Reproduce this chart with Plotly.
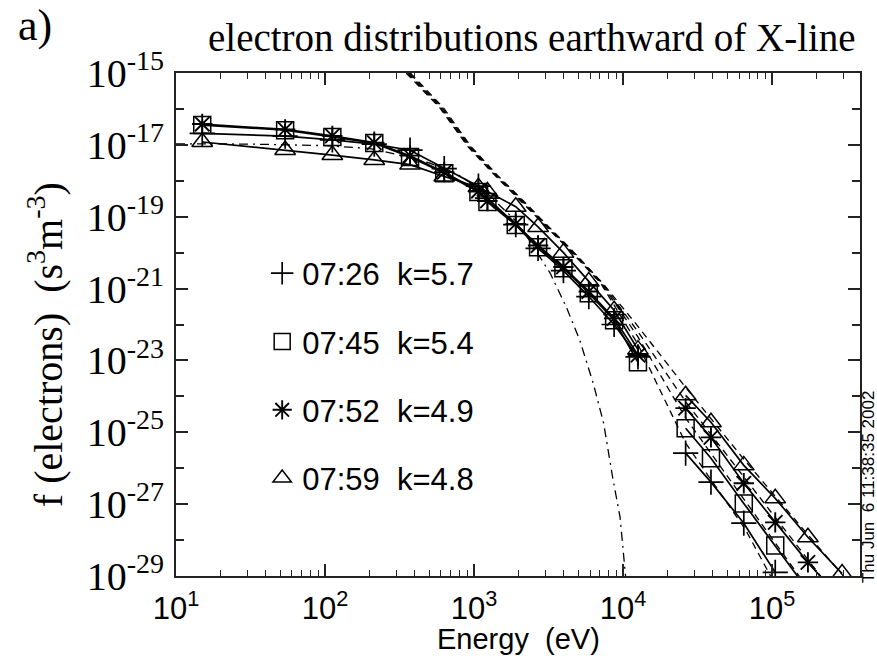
import plotly.graph_objects as go

# ---------------- data ----------------
# energies of the low-energy instrument channels (eV)
E_low = [15, 54, 112, 214, 372, 631, 1070, 1230, 1905, 2690, 3980, 5890, 8710, 12590]
# energies of the high-energy instrument channels (eV)
E_high = [26300, 38900, 64600, 105000, 174000, 295000]

times = ["07:26", "07:45", "07:52", "07:59"]
kappas = ["5.7", "5.4", "4.9", "4.8"]

f_0726_low = [2.09e-17, 1.74e-17, 1.38e-17, 1.05e-17, 7.1e-18, 2.19e-18, 7.1e-19, 3.3e-19,
              6.0e-20, 1.32e-20, 3.16e-21, 6.0e-22, 1.0e-22, 1.26e-23]
f_0745_low = [3.55e-17, 2.57e-17, 1.66e-17, 1.12e-17, 4.57e-18, 1.62e-18, 4.9e-19, 2.57e-19,
              5.9e-20, 1.41e-20, 3.7e-21, 7.4e-22, 1.32e-22, 8.9e-24]
f_0752_low = [3.8e-17, 2.69e-17, 1.78e-17, 1.15e-17, 5.0e-18, 1.74e-18, 5.2e-19, 2.75e-19,
              6.3e-20, 1.58e-20, 4.0e-21, 8.3e-22, 1.48e-22, 1.41e-23]
f_0759_low = [1.2e-17, 7.2e-18, 5.2e-18, 3.8e-18, 2.82e-18, 1.32e-18, 6.6e-19, 5.0e-19,
              1.9e-19, 5.2e-20, 1.0e-20, 1.58e-21, 2.5e-22, 2.0e-23]

f_0726_high = [2.63e-26, 4.1e-27, 2.95e-28, 1.26e-29, None, None]
f_0745_high = [1.29e-25, 1.9e-26, 1.05e-27, 7.1e-29, 4.0e-30, None]
f_0752_high = [4.7e-25, 7.2e-26, 3.8e-27, 3.1e-28, 2.4e-29, 2.0e-30]
f_0759_high = [1.07e-24, 1.9e-25, 1.2e-26, 1.45e-27, 1.2e-28, 1.17e-29]

# kappa fits (dashed), read as points along each curve
fitE_0726 = [350, 590, 910, 1380, 2040, 3020, 4470, 7080, 12590, 26300, 66100, 97700]
fitF_0726 = [1.0e-15, 1.07e-16, 8.9e-18, 1.41e-18, 2.82e-19, 5.6e-20, 1.07e-20, 1.41e-21,
             2.8e-23, 5.0e-26, 2.0e-28, 1.0e-29]
fitE_0745 = [358, 600, 925, 1400, 2070, 3060, 4520, 7150, 12590, 26300, 64600, 105000, 158000]
fitF_0745 = [1.0e-15, 1.07e-16, 8.9e-18, 1.41e-18, 2.82e-19, 5.6e-20, 1.07e-20, 1.41e-21,
             4.5e-23, 2.5e-25, 1.41e-27, 8.9e-29, 7.9e-30]
fitE_0752 = [366, 612, 940, 1420, 2100, 3100, 4570, 7230, 12590, 26300, 64600, 174000, 251000]
fitF_0752 = [1.0e-15, 1.07e-16, 8.9e-18, 1.41e-18, 2.82e-19, 5.6e-20, 1.07e-20, 1.41e-21,
             6.3e-23, 7.1e-25, 5.6e-27, 2.8e-29, 4.0e-30]
fitE_0759 = [374, 624, 955, 1440, 2130, 3140, 4630, 7300, 12590, 26300, 64600, 174000, 316000]
fitF_0759 = [1.0e-15, 1.07e-16, 8.9e-18, 1.41e-18, 2.82e-19, 5.6e-20, 1.07e-20, 1.41e-21,
             8.9e-23, 1.78e-24, 1.78e-26, 1.41e-28, 7.9e-30]

# Maxwellian (dash-dot)
maxE = [10, 32, 100, 200, 316, 501, 794, 1260, 2000, 3240, 4170, 5130, 6310, 7410, 8510, 9550, 10500]
maxF = [1.07e-17, 1.05e-17, 9.5e-18, 7.9e-18, 5.2e-18, 3.16e-18, 1.41e-18, 4.0e-19, 6.3e-20,
        2.7e-21, 3.0e-22, 3.6e-23, 2.3e-24, 1.78e-25, 5.6e-27, 4.3e-28, 6.3e-30]

xtick_vals = [1e1, 1e2, 1e3, 1e4, 1e5]
xtick_text = ["10<sup>1</sup>", "10<sup>2</sup>", "10<sup>3</sup>", "10<sup>4</sup>", "10<sup>5</sup>"]
ytick_vals = [1e-15, 1e-17, 1e-19, 1e-21, 1e-23, 1e-25, 1e-27, 1e-29]
ytick_text = ["10<sup>-15</sup>", "10<sup>-17</sup>", "10<sup>-19</sup>", "10<sup>-21</sup>",
              "10<sup>-23</sup>", "10<sup>-25</sup>", "10<sup>-27</sup>", "10<sup>-29</sup>"]

# ---------------- figure ----------------
SERIF = "Liberation Serif, Times New Roman, serif"
SANS = "Liberation Sans, Arial, Helvetica, sans-serif"

fig = go.Figure()

# fits
for fe, ff in [(fitE_0726, fitF_0726), (fitE_0745, fitF_0745),
               (fitE_0752, fitF_0752), (fitE_0759, fitF_0759)]:
    fig.add_trace(go.Scatter(x=fe, y=ff, mode="lines", showlegend=False,
                             line=dict(color="black", width=1.3, dash="7px,5px")))
fig.add_trace(go.Scatter(x=maxE, y=maxF, mode="lines", showlegend=False,
                         line=dict(color="black", width=1.3, dash="9px,5px,2px,5px")))

series = [
    (f_0726_low, f_0726_high, "cross-thin-open", 18, 1.7),
    (f_0745_low, f_0745_high, "square-open", 17, 1.5),
    (f_0752_low, f_0752_high, "asterisk-open", 17, 1.9),
    (f_0759_low, f_0759_high, "triangle-up-open", 18, 1.5),
]
for i, (lo, hi, sym, sz, lw) in enumerate(series):
    xs = E_low + [None] + E_high
    ys = lo + [None] + hi
    fig.add_trace(go.Scatter(x=xs, y=ys, mode="lines", showlegend=False, connectgaps=False,
                             line=dict(color="black", width=1.7)))
    fig.add_trace(go.Scatter(
        x=xs, y=ys, mode="markers",
        name=f"{times[i]}\u00a0\u00a0k={kappas[i]}",
        legendgroup=f"g{i}",
        marker=dict(symbol=sym, size=sz, color="black", line=dict(color="black", width=lw)),
    ))

axis_common = dict(
    type="log", showline=True, linecolor="#222", linewidth=2, mirror="ticks",
    ticks="inside", ticklen=12, tickwidth=1.5, tickcolor="#222",
    showgrid=False, zeroline=False,
)

fig.update_xaxes(
    **axis_common, range=[1, 5.59], tickmode="array", tickvals=xtick_vals, ticktext=xtick_text,
    tickfont=dict(family=SANS, size=31, color="black"), ticklabelstandoff=4,
    minor=dict(ticks="inside", ticklen=6, tickwidth=1.2, tickcolor="#222", tickmode="array",
               tickvals=[m * 10 ** d for d in range(1, 6) for m in range(2, 10) if m * 10 ** d < 3.9e5]),
)
fig.update_yaxes(
    **axis_common, range=[-29, -15], tickmode="array", tickvals=ytick_vals, ticktext=ytick_text,
    tickfont=dict(family=SERIF, size=40, color="black"), ticklabelstandoff=2,
    minor=dict(ticks="inside", ticklen=8, tickwidth=1.5, tickcolor="#222", tickmode="array",
               tickvals=[10.0 ** (-e) for e in range(16, 29, 2)]),
)

fig.update_layout(
    width=877, height=659,
    margin=dict(l=176, r=17, t=73, b=83),
    paper_bgcolor="white", plot_bgcolor="white",
    legend=dict(x=0.126, y=0.655, xanchor="left", yanchor="top",
                font=dict(family=SANS, size=31, color="black"),
                bgcolor="rgba(0,0,0,0)", tracegroupgap=25, itemwidth=30),
    annotations=[
        dict(text="a)", xref="paper", yref="paper", x=-0.206, y=1.0935,
             xanchor="center", yanchor="middle", showarrow=False,
             font=dict(family=SERIF, size=44, color="black")),
        dict(text="electron distributions earthward of X-line", xref="paper", yref="paper",
             x=0.52, y=1.0696, xanchor="center", yanchor="middle", showarrow=False,
             font=dict(family=SERIF, size=39, color="black")),
        dict(text="f (electrons)  (s<sup>3</sup>m<sup>-3</sup>)", xref="paper", yref="paper",
             x=-0.1915, y=0.459, xanchor="center", yanchor="middle", textangle=-90,
             showarrow=False, font=dict(family=SERIF, size=40, color="black")),
        dict(text="Energy  (eV)", xref="paper", yref="paper", x=0.5, y=-0.161,
             xanchor="center", yanchor="bottom", showarrow=False,
             font=dict(family=SANS, size=29, color="black")),
        dict(text="Thu Jun  6 11:38:35 2002", xref="paper", yref="paper", x=1.0125, y=-0.018,
             xanchor="center", yanchor="bottom", textangle=-90, showarrow=False,
             font=dict(family=SANS, size=17, color="black")),
    ],
)

fig.write_html("out.html")
